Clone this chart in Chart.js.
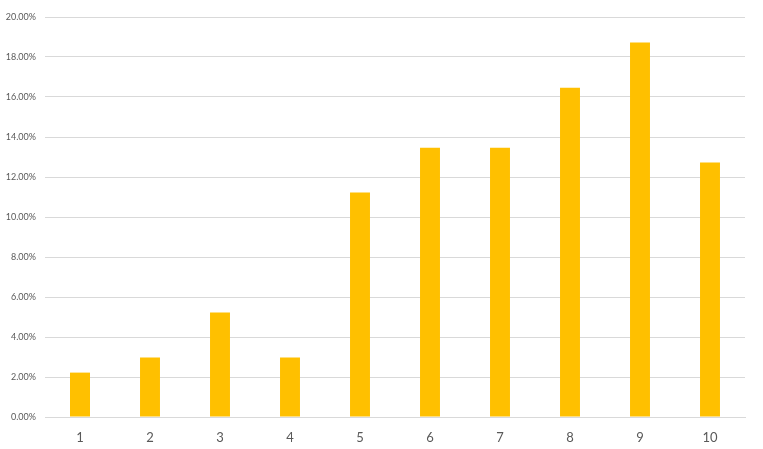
<!DOCTYPE html>
<html>
<head>
<meta charset="utf-8">
<script src="https://cdn.jsdelivr.net/npm/chart.js@4/dist/chart.umd.min.js"></script>
<style>
html,body{margin:0;padding:0;background:#fff;}
#wrap{width:763px;height:449px;position:relative;}
</style>
</head>
<body>
<div id="wrap"><canvas id="c"></canvas></div>
<script>
const categories = ["1","2","3","4","5","6","7","8","9","10"];
const values = [2.22, 2.97, 5.22, 2.97, 11.22, 13.46, 13.46, 16.46, 18.72, 12.72];
const yTicks = [0, 2, 4, 6, 8, 10, 12, 14, 16, 18, 20];

new Chart(document.getElementById('c'), {
  type: 'bar',
  data: {
    labels: categories,
    datasets: [{
      data: values,
      backgroundColor: '#FFC000',
      borderWidth: 0,
      barPercentage: 0.57,
      categoryPercentage: 0.5
    }]
  },
  options: {
    responsive: true,
    maintainAspectRatio: false,
    animation: false,
    layout: { padding: { top: 17, right: 18, left: 0, bottom: 0 } },
    plugins: { legend: { display: false }, tooltip: { enabled: false } },
    scales: {
      x: {
        afterFit(scale) { scale.height = 32; },
        grid: { display: false, drawTicks: false },
        border: { display: true, color: '#d9d9d9', width: 1 },
        ticks: { color: '#595959', font: { family: 'Lato', size: 13 }, padding: 13 }
      },
      y: {
        min: 0, max: 20,
        afterFit(scale) { scale.width = 45; },
        afterBuildTicks(scale) { scale.ticks = yTicks.map(v => ({ value: v })); },
        grid: { color: '#d9d9d9', drawTicks: false },
        border: { display: false },
        ticks: {
          color: '#595959',
          font: { family: 'Lato', size: 9 },
          padding: 9,
          callback: v => v.toFixed(2) + '%'
        }
      }
    }
  }
});
</script>
</body>
</html>
